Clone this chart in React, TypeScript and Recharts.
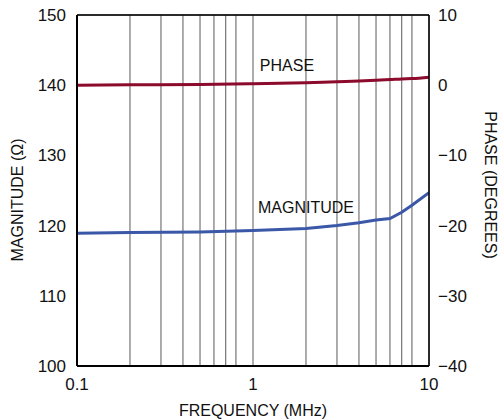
import {
  LineChart,
  Line,
  XAxis,
  YAxis,
  CartesianGrid,
  ReferenceLine,
  ReferenceDot,
  Label,
} from "recharts";

// frequency in MHz
const freq = [0.1, 0.2, 0.5, 1, 2, 3, 4, 5, 6, 7, 8, 10];
// impedance magnitude in ohms
const magnitude = [118.9, 119.0, 119.1, 119.3, 119.6, 120.0, 120.4, 120.8, 121.0, 121.9, 122.9, 124.7];
// phase in degrees
const phase = [0, 0.05, 0.1, 0.2, 0.35, 0.5, 0.6, 0.7, 0.8, 0.9, 0.95, 1.15];

const freqTicks = [
  0.1, 0.2, 0.3, 0.4, 0.5, 0.6, 0.7, 0.8, 0.9,
  1, 2, 3, 4, 5, 6, 7, 8, 9, 10,
];
const freqLabels = [0.1, 1, 10];
const magTicks = [100, 110, 120, 130, 140, 150];
const phaseTicks = [-40, -30, -20, -10, 0, 10];

const data = freq.map((f, i) => ({ f, mag: magnitude[i], phase: phase[i] }));

const FONT = "'Liberation Sans', Arial, sans-serif";
const tickStyle = { fontSize: 17, fill: "#111", fontFamily: FONT };

const fmtPhase = (v: number) => (v < 0 ? "\u2212" + Math.abs(v) : String(v));

export default function App() {
  return (
    <div style={{ position: "absolute", left: 0, top: 0, width: 501, height: 420, background: "#fff" }}>
      <LineChart
        width={501}
        height={420}
        data={data}
        margin={{ top: 15, right: 0, left: 0, bottom: 0 }}
      >
        <CartesianGrid stroke="#5a5a5a" strokeWidth={1} />
        <XAxis
          dataKey="f"
          type="number"
          scale="log"
          domain={[0.1, 10]}
          ticks={freqTicks}
          tickFormatter={(v: number) => (freqLabels.includes(v) ? String(v) : "")}
          allowDataOverflow
          height={54}
          tickLine={false}
          tickMargin={6}
          axisLine={{ stroke: "#000", strokeWidth: 2 }}
          tick={tickStyle}
        >
          <Label
            content={() => (
              <text x={253} y={416} textAnchor="middle" fontSize={16} fontFamily={FONT} fill="#111">
                FREQUENCY (MHz)
              </text>
            )}
          />
        </XAxis>
        <YAxis
          yAxisId="left"
          domain={[100, 150]}
          ticks={magTicks}
          width={77}
          tickLine={false}
          tickMargin={5}
          axisLine={{ stroke: "#000", strokeWidth: 2 }}
          tick={tickStyle}
        >
          <Label
            content={() => (
              <text
                x={23}
                y={200}
                transform="rotate(-90 23 200)"
                textAnchor="middle"
                fontSize={16}
                fontFamily={FONT}
                fill="#111"
              >
                MAGNITUDE (Ω)
              </text>
            )}
          />
        </YAxis>
        <YAxis
          yAxisId="right"
          orientation="right"
          domain={[-40, 10]}
          ticks={phaseTicks}
          tickFormatter={fmtPhase}
          width={72}
          tickLine={false}
          tickMargin={3}
          axisLine={{ stroke: "#000", strokeWidth: 1.5 }}
          tick={tickStyle}
        >
          <Label
            content={() => (
              <text
                x={485}
                y={185}
                transform="rotate(90 485 185)"
                textAnchor="middle"
                fontSize={16}
                fontFamily={FONT}
                fill="#111"
              >
                PHASE (DEGREES)
              </text>
            )}
          />
        </YAxis>
        <ReferenceLine yAxisId="left" y={150} stroke="#000" strokeWidth={1.5} />
        <Line
          yAxisId="right"
          dataKey="phase"
          type="monotone"
          stroke="#8c0a2c"
          strokeWidth={3}
          dot={false}
          isAnimationActive={false}
        />
        <Line
          yAxisId="left"
          dataKey="mag"
          type="linear"
          stroke="#3b58a8"
          strokeWidth={3}
          dot={false}
          isAnimationActive={false}
        />
        <ReferenceDot
          yAxisId="left"
          x={1.56}
          y={142.8}
          r={0}
          label={{ value: "PHASE", position: "center", fontSize: 16, fontFamily: FONT, fill: "#111" }}
        />
        <ReferenceDot
          yAxisId="left"
          x={2.0}
          y={122.6}
          r={0}
          label={{ value: "MAGNITUDE", position: "center", fontSize: 16, fontFamily: FONT, fill: "#111" }}
        />
      </LineChart>
    </div>
  );
}
